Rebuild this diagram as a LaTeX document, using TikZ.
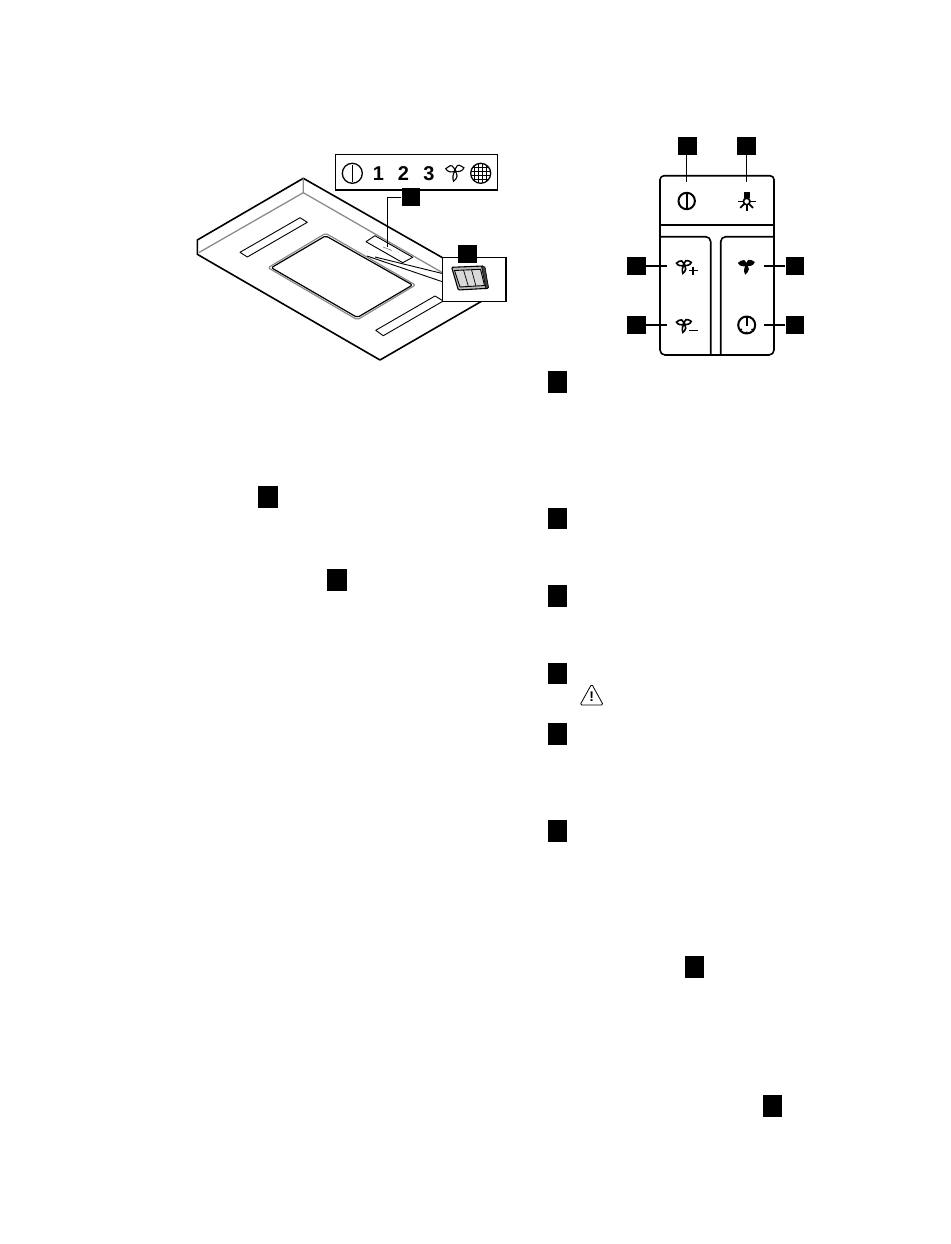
\documentclass[tikz,border=0pt]{standalone}
\usepackage{fontspec}
\usetikzlibrary{calc}
\setmainfont{Liberation Sans}
\definecolor{midgray}{gray}{0.55}
\tikzset{
  sq/.style={fill=black,draw=none,inner sep=0pt,minimum width=18.6pt,minimum height=18pt},
  tsq/.style={fill=black,draw=none,inner sep=0pt,minimum width=19.3pt,minimum height=21.5pt},
  outl/.style={draw=black,line width=1.6pt,line join=round},
  thinl/.style={draw=black,line width=0.9pt,line join=round},
  grayl/.style={draw=midgray,line width=1.3pt,line join=round},
  lead/.style={draw=black,line width=1.3pt},
  digit/.style={font=\fontsize{20}{20}\selectfont\bfseries,inner sep=0pt},
}
\newcommand{\petalshape}[1]{\path[#1] (0,0) .. controls (-2.4,-1.6) and (-2.8,-5) .. (-1,-6.6) .. controls (0.2,-5.2) and (3,-5.4) .. (2.8,-3.2) .. controls (2.4,-1.6) and (1,-0.6) .. (0,0) -- cycle;}
\newcommand{\fanicon}[4]{%
 \begin{scope}[shift={(#1,#2)},scale=#3,x=1pt,y=1pt]
 \begin{scope}[rotate=118,yscale=1.1]\petalshape{#4}\end{scope}
 \begin{scope}[rotate=248,xscale=-1,yscale=1.1]\petalshape{#4}\end{scope}
 \begin{scope}[rotate=-3,xscale=0.65,yscale=1.2]\petalshape{#4}\end{scope}
 \end{scope}}
\begin{document}
\begin{tikzpicture}[x=1pt,y=-1pt]
\useasboundingbox (0,0) rectangle (950,1244);
\fill[white] (0,0) rectangle (950,1244);

% hood body
\path[outl] (443,258) -- (303.3,178.3) -- (197.3,240) -- (197.3,254.3) -- (380,360) -- (482,301);
\path[grayl] (303.3,178.3) -- (303.3,192.7) -- (199,252.5);
\path[grayl] (303.3,192.7) -- (443,273);
\path[thinl] (300,217.7) -- (307.3,222.3) -- (247.3,257) -- (240,252.3) -- cycle;
\path[thinl] (435,296) -- (443.3,301) -- (383.3,335.7) -- (375.7,330.3) -- cycle;
\path[draw=midgray,line width=1.2pt,line join=round,rounded corners=2pt] (325.7,233.3) -- (415.5,285) -- (357.3,319.8) -- (268,267.7) -- cycle;
\path[draw=black,line width=1.2pt,line join=round,rounded corners=2pt] (325.7,235.8) -- (412.5,285) -- (357.3,317.5) -- (271.3,267.7) -- cycle;
\path[thinl] (375,235.7) -- (412.7,257.3) -- (402.7,262.7) -- (366,241.7) -- cycle;
\path[draw=midgray,line width=0.7pt] (383,247) -- (392,250.5);
\coordinate (zoomA) at (367,256);
\coordinate (zoomB) at (375,257);

% display strip
\node[draw=black,line width=1.2pt,fill=white,inner sep=0pt,minimum width=161.6pt,minimum height=35.7pt] (strip) at (416.5,172.2) {};
\path[outl,line width=1.3pt] (352.3,173.3) circle (10);
\path[outl,line width=1.3pt] (352.3,165) -- (352.3,181.6);
\node[digit] (dig1) at (378.5,173.2) {1};
\node[digit] (dig2) at (403.5,173.2) {2};
\node[digit] (dig3) at (429,173.2) {3};
\fanicon{455}{171}{1.3}{draw=black,line width=1.1pt,fill=white}
\path[outl,line width=1.3pt] (480.7,173.3) circle (10);
\begin{scope}
\clip (480.7,173.3) circle (10);
\foreach \d in {-6,-2,2,6}{
  \draw[line width=0.9pt] (480.7+\d,163) -- (480.7+\d,184);
  \draw[line width=0.9pt] (470,173.3+\d) -- (491,173.3+\d);
}
\end{scope}

% zoom inset box
\node[draw=black,line width=1.2pt,fill=white,inner sep=0pt,minimum width=63.7pt,minimum height=44pt] (inset) at (474.2,279.7) {};
\coordinate (insetA) at (442.3,273.5);
\coordinate (insetB) at (442.3,281.7);
\path[thinl] (zoomB) -- (insetA);
\path[thinl] (zoomA) -- (insetB);
% rocker switch
\path[draw=black,line width=1.1pt,fill=midgray!60,rounded corners=1pt] (451.7,267.3) -- (483.3,266) -- (488.3,288.3) -- (458.3,290) -- cycle;
\path[draw=black,line width=0.6pt,fill=black!75] (481.5,266.5) -- (485,267) -- (488.5,287.5) -- (486,289) -- cycle;
\path[draw=black,line width=0.9pt,fill=white!85!black] (454.5,270.5) -- (480.5,269.3) -- (484.5,285.5) -- (460,287) -- cycle;
\path[draw=black,line width=0.7pt] (463.5,270) -- (468.5,286.8);
\path[draw=black,line width=0.7pt] (471.5,269.7) -- (476,286.2);

% labels of left drawing
\node[sq] (s1) at (410.8,197.2) {};
\node[sq] (s2) at (467.5,253.7) {};
\coordinate (s1end) at (387.7,246.7);
\draw[lead] (s1.west) -| (s1end);

% control panel outlines
\path[outl,rounded corners=4pt] (660,225) -- (660,175.7) -- (774,175.7) -- (774,225);
\path[outl] (660,225) -- (774,225);
\path[outl,rounded corners=5pt] (660,225) -- (660,355) -- (774,355) -- (774,225);
\path[outl,rounded corners=5pt] (660,236.7) -- (710.7,236.7) -- (710.7,355);
\path[outl,rounded corners=5pt] (774,236.7) -- (720.7,236.7) -- (720.7,355);

% panel icons
\coordinate (icoTL) at (686.7,181.5);
\coordinate (icoTR) at (746.7,181.5);
\coordinate (icoML) at (666.7,266);
\coordinate (icoBL) at (666.7,325);
\coordinate (icoMR) at (763.5,266);
\coordinate (icoBR) at (763.5,325);
\path[outl,line width=2pt] (686.7,201) circle (8.2);
\path[outl,line width=2pt] (686.7,194) -- (686.7,208);
% lamp
\path[outl,line width=1.7pt] (746.7,201.5) circle (3.3);
\fill (743.5,191.5) rectangle (750,197.5);
\foreach \a in {0,180,90,135,45}{
  \draw[line width=1.8pt] ($(746.7,201.5)+(\a:3.8)$) -- ($(746.7,201.5)+(\a:9)$);
}
\fanicon{684}{265}{1.05}{draw=black,line width=1.6pt,fill=white}
\draw[line width=1.8pt] (689,270.5) -- (697.5,270.5) (693.3,266.5) -- (693.3,274.5);
\fanicon{684}{324}{1.05}{draw=black,line width=1.6pt,fill=white}
\draw[line width=1.8pt] (689,330.5) -- (697.5,330.5);
\fanicon{746.5}{265}{1.1}{draw=black,line width=1.1pt,fill=black}
\path[outl,line width=2pt] (746.7,325) circle (8.5);
\draw[line width=1.8pt] (746.7,317) -- (746.7,325.5);
\draw[line width=1.4pt] (739.5,331) -- (741.8,329) (753.9,331) -- (751.6,329) (746.7,331.5) -- (746.7,333.5);

\node[sq] (p1) at (687.5,146) {};
\node[sq] (p2) at (746.7,146) {};
\node[sq] (p3) at (636.5,266) {};
\node[sq] (p4) at (636.5,325) {};
\node[sq] (p5) at (794.8,266) {};
\node[sq] (p6) at (794.8,325) {};
\draw[lead] (p1.south -| icoTL) -- (icoTL);
\draw[lead] (p2) -- (icoTR);
\draw[lead] (p3) -- (icoML);
\draw[lead] (p4) -- (icoBL);
\draw[lead] (p5) -- (icoMR);
\draw[lead] (p6) -- (icoBR);

% text-column label squares
\node[tsq] (t1) at (268,497.2) {};
\node[tsq] (t2) at (337,579.8) {};
\node[tsq] (t3) at (557.3,382) {};
\node[tsq] (t4) at (557.3,518.3) {};
\node[tsq] (t5) at (557.3,596) {};
\node[tsq] (t6) at (557.3,673.3) {};
\node[tsq] (t7) at (557.3,734) {};
\node[tsq] (t8) at (557.3,831) {};
\node[tsq] (t9) at (694.7,967) {};
\node[tsq] (t10) at (772.3,1105.8) {};

% warning triangle
\path[draw=black,line width=0.8pt,rounded corners=1.6pt] (591.7,684) -- (603.3,705) -- (580,705) -- cycle;
\node[inner sep=0pt,font=\fontsize{14}{14}\selectfont\bfseries] (warn) at (591.7,697) {!};
\end{tikzpicture}
\end{document}
